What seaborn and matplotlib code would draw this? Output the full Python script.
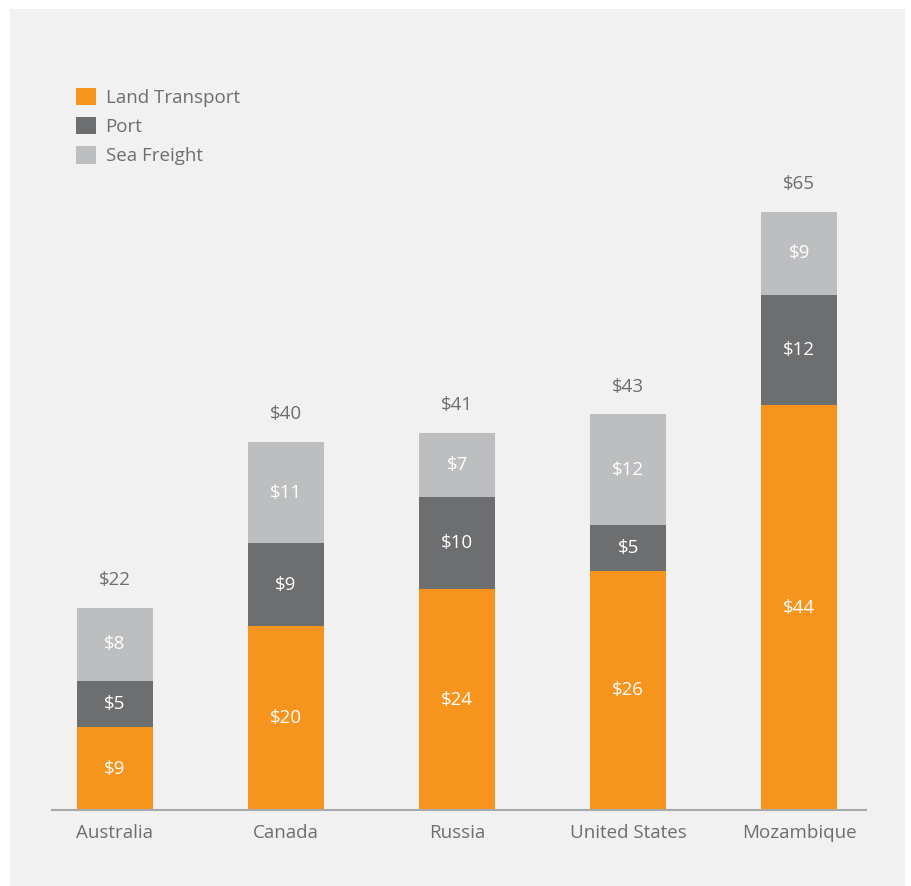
import matplotlib
matplotlib.use("Agg")
import matplotlib.pyplot as plt
from matplotlib.patches import Patch, Rectangle
import seaborn as sns
import numpy as np
import pandas as pd

countries = ["Australia", "Canada", "Russia", "United States", "Mozambique"]
land_transport = [9, 20, 24, 26, 44]
port = [5, 9, 10, 5, 12]
sea_freight = [8, 11, 7, 12, 9]
totals = [22, 40, 41, 43, 65]

series_names = ["Land Transport", "Port", "Sea Freight"]
series_colors = ["#f7941d", "#6d6e70", "#bcbec0"]
text_gray = "#6d6e70"
panel_bg = "#f1f1f1"

sns.set_theme(style="white")
plt.rcParams["font.family"] = ["Open Sans", "DejaVu Sans"]

FS = 13.5

fig = plt.figure(figsize=(9.12, 8.86), dpi=100)
fig.patch.set_facecolor("white")
# light gray panel behind the chart
fig.add_artist(Rectangle((10 / 912, 0), 895 / 912, 1 - 9 / 886,
                         transform=fig.transFigure, facecolor=panel_bg,
                         edgecolor="none", zorder=-10))

ax = fig.add_axes([52 / 912, 1 - 810 / 886, (866 - 52) / 912, (810 - 212) / 886])
ax.set_facecolor("none")

df = pd.DataFrame({"country": countries, "Land Transport": land_transport,
                   "Port": port, "Sea Freight": sea_freight})

bottom = np.zeros(len(countries))
for name, color in zip(series_names, series_colors):
    vals = df[name].to_numpy(dtype=float)
    sns.barplot(data=df, x="country", y=name, color=color, width=0.444,
                bottom=bottom, saturation=1, ax=ax, linewidth=0)
    for i, v in enumerate(vals):
        ax.text(i, bottom[i] + v / 2, f"${v:.0f}", ha="center", va="center",
                color="white", fontsize=FS)
    bottom = bottom + vals

for i, t in enumerate(totals):
    ax.annotate(f"${t}", (i, t), xytext=(0, 20), textcoords="offset points",
                ha="center", va="center", color=text_gray, fontsize=FS)

ax.set_xlim(-0.368, 4.39)
ax.set_ylim(0, 65)
ax.set_xlabel("")
ax.set_ylabel("")
ax.set_yticks([])
ax.tick_params(axis="x", length=0, pad=10, labelsize=FS, labelcolor=text_gray)
for side in ["left", "right", "top"]:
    ax.spines[side].set_visible(False)
ax.spines["bottom"].set_color("#a7a9ac")
ax.spines["bottom"].set_linewidth(1.5)

handles = [Patch(facecolor=c, edgecolor="none") for c in series_colors]
fig.legend(handles, series_names, loc="upper left",
           bbox_to_anchor=(69 / 912, 1 - 80 / 886), frameon=False,
           fontsize=FS, labelcolor=text_gray, handlelength=1.05,
           handleheight=1.05, handletextpad=0.5, labelspacing=0.55,
           borderaxespad=0)

fig.savefig("out.png", dpi=100, facecolor="white")
